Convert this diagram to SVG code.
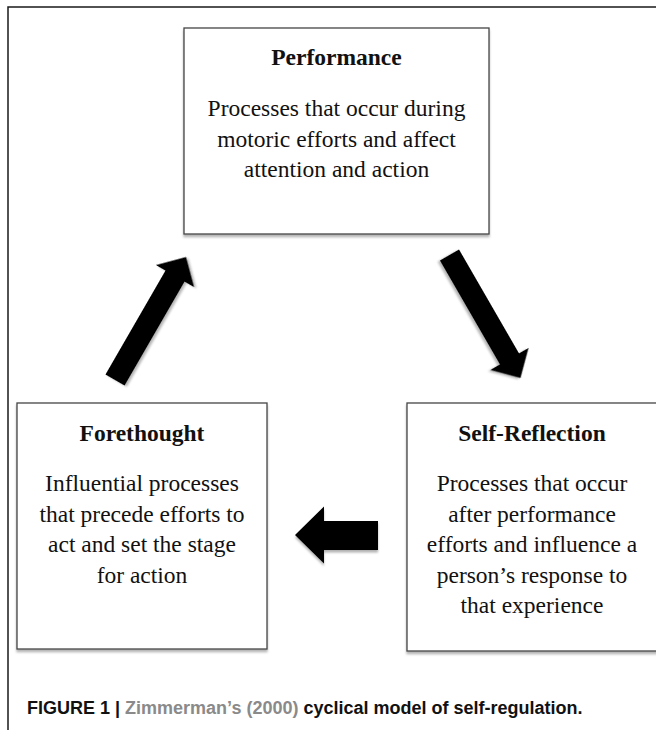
<svg xmlns="http://www.w3.org/2000/svg" width="656" height="730" viewBox="0 0 656 730">
  <defs>
    <style>
      .box { fill: #ffffff; stroke: #454545; stroke-width: 1.3; }
      .title { font-family: "Liberation Serif", "Times New Roman", serif; font-size: 23.5px; font-weight: bold; fill: #111; text-anchor: middle; }
      .body { font-family: "Liberation Serif", "Times New Roman", serif; font-size: 23.5px; fill: #111; text-anchor: middle; }
      .arrow { fill: #000000; }
      .frame { stroke: #1a1a1a; stroke-width: 1.5; fill: none; }
      .caption { font-family: "Liberation Sans", Arial, sans-serif; font-size: 18px; font-weight: bold; fill: #111; }
      .gray { fill: #8a8a8a; }
    </style>
    <filter id="shadow" x="-10%" y="-10%" width="130%" height="130%">
      <feDropShadow dx="0" dy="2.5" stdDeviation="1.2" flood-color="#000" flood-opacity="0.3"/>
    </filter>
    <path id="diagArrow" d="M0,-11 L120,-11 L120,-22 L142,0 L120,22 L120,11 L0,11 Z"/>
  </defs>

  <rect width="656" height="730" fill="#ffffff"/>

  <g id="frame">
    <path class="frame" d="M8,730 L8,7 L656,7"/>
  </g>

  <g id="node-performance">
    <rect class="box" x="184" y="28" width="305" height="206" filter="url(#shadow)"/>
    <text class="title" x="336.5" y="65">Performance</text>
    <text class="body" x="336.5" y="116">Processes that occur during</text>
    <text class="body" x="336.5" y="146.5">motoric efforts and affect</text>
    <text class="body" x="336.5" y="177">attention and action</text>
  </g>

  <g id="node-forethought">
    <rect class="box" x="17" y="403" width="250" height="246" filter="url(#shadow)"/>
    <text class="title" x="142" y="441">Forethought</text>
    <text class="body" x="142" y="491">Influential processes</text>
    <text class="body" x="142" y="521.5">that precede efforts to</text>
    <text class="body" x="142" y="552">act and set the stage</text>
    <text class="body" x="142" y="582.5">for action</text>
  </g>

  <g id="node-selfreflection">
    <rect class="box" x="407" y="403" width="251" height="248" filter="url(#shadow)"/>
    <text class="title" x="532" y="441">Self-Reflection</text>
    <text class="body" x="532" y="491">Processes that occur</text>
    <text class="body" x="532" y="521.5">after performance</text>
    <text class="body" x="532" y="552">efforts and influence a</text>
    <text class="body" x="532" y="582.5">person’s response to</text>
    <text class="body" x="532" y="613">that experience</text>
  </g>

  <g id="connectors">
    <use href="#diagArrow" class="arrow" transform="translate(115,380) rotate(-60)" filter="url(#shadow)"/>
    <use href="#diagArrow" class="arrow" transform="translate(449.5,255) rotate(60)" filter="url(#shadow)"/>
    <path class="arrow" d="M378,521 L324,521 L324,506.5 L295,535 L324,563.5 L324,550 L378,550 Z" filter="url(#shadow)"/>
  </g>

  <g id="caption">
    <text class="caption" x="27" y="714">FIGURE 1 | <tspan class="gray">Zimmerman’s (2000)</tspan> cyclical model of self-regulation.</text>
  </g>
</svg>
